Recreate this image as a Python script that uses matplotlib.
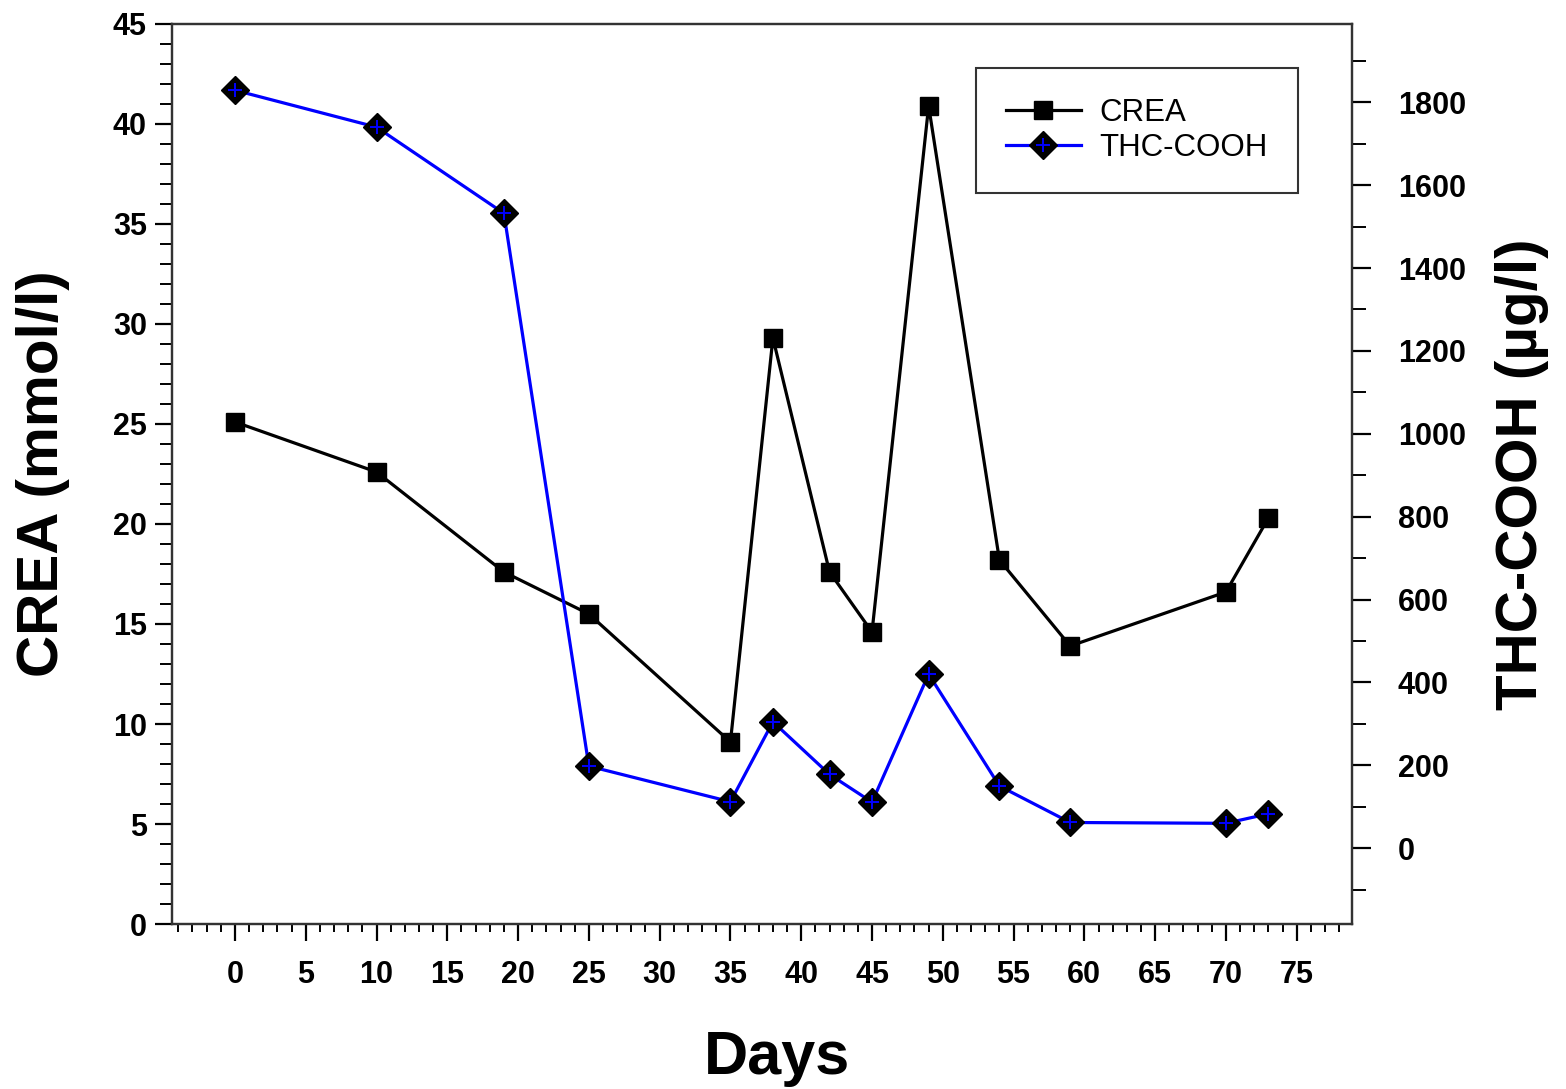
import numpy as np
import matplotlib.pyplot as plt
from matplotlib.ticker import MultipleLocator
from matplotlib.legend_handler import HandlerTuple

plt.rcParams['font.family'] = ['Liberation Sans', 'DejaVu Sans']

# Data
days = [0, 10, 19, 25, 35, 38, 42, 45, 49, 54, 59, 70, 73]
crea = [25.1, 22.6, 17.6, 15.5, 9.1, 29.3, 17.6, 14.6, 40.9, 18.2, 13.9, 16.6, 20.3]
thc_cooh = [1829, 1740, 1532, 198, 112, 305, 178, 111, 420, 150, 62, 60, 83]

fig = plt.figure(figsize=(15.66, 10.89), dpi=100)
ax = fig.add_axes([0.1098, 0.1515, 0.7535, 0.8265])
ax2 = ax.twinx()

l1, = ax.plot(days, crea, color='black', lw=2.3, marker='s', ms=13,
              mfc='black', mec='black', zorder=3)
l2, = ax2.plot(days, thc_cooh, color='blue', lw=2.3, marker='D', ms=14,
               mfc='black', mec='black', zorder=3)
l3, = ax2.plot(days, thc_cooh, ls='none', marker='+', ms=10, mew=1.4,
               color='blue', zorder=4)

ax.set_xlim(-4.45, 78.9)
ax.set_ylim(0, 45)
ax2.set_ylim(-183, 1989)

ax.xaxis.set_major_locator(MultipleLocator(5))
ax.xaxis.set_minor_locator(MultipleLocator(1))
ax.yaxis.set_major_locator(MultipleLocator(5))
ax.yaxis.set_minor_locator(MultipleLocator(1))
ax2.yaxis.set_major_locator(MultipleLocator(200))
ax2.yaxis.set_minor_locator(MultipleLocator(100))
ax2.set_yticks(np.arange(0, 1801, 200))

for a in (ax, ax2):
    for s in a.spines.values():
        s.set_linewidth(1.6)
        s.set_color('#333333')

ax.tick_params(axis='x', which='major', direction='out', length=12, width=1.6,
               pad=14, labelsize=22)
ax.tick_params(axis='x', which='minor', direction='out', length=6, width=1.4)
ax.tick_params(axis='y', which='major', direction='out', length=12, width=1.6,
               pad=6, labelsize=22)
ax.tick_params(axis='y', which='minor', direction='out', length=9, width=1.4)
ax2.tick_params(axis='y', which='major', direction='out', length=14, width=1.6,
                pad=19, labelsize=22)
ax2.tick_params(axis='y', which='minor', direction='out', length=10, width=1.4)

for lab in ax.get_xticklabels() + ax.get_yticklabels() + ax2.get_yticklabels():
    lab.set_fontweight('bold')

ax.set_xlabel('Days', fontsize=44, fontweight='bold')
ax.set_ylabel('CREA (mmol/l)', fontsize=42, fontweight='bold')
ax2.set_ylabel('THC-COOH (µg/l)', fontsize=42, fontweight='bold')
ax.xaxis.set_label_coords(0.513, -0.118)
ax.yaxis.set_label_coords(-0.086, 0.5)
ax2.yaxis.set_label_coords(1.121, 0.5)

leg = ax2.legend([l1, (l2, l3)], ['CREA', 'THC-COOH'],
                 handler_map={tuple: HandlerTuple(ndivide=1)},
                 loc='upper right', bbox_to_anchor=(0.954, 0.951),
                 borderaxespad=0, fontsize=22.5, fancybox=False,
                 edgecolor='black', borderpad=0.95, handlelength=2.4,
                 labelspacing=0.17, handletextpad=0.6)
leg.get_frame().set_linewidth(1.5)

fig.savefig('out.png', dpi=100)
